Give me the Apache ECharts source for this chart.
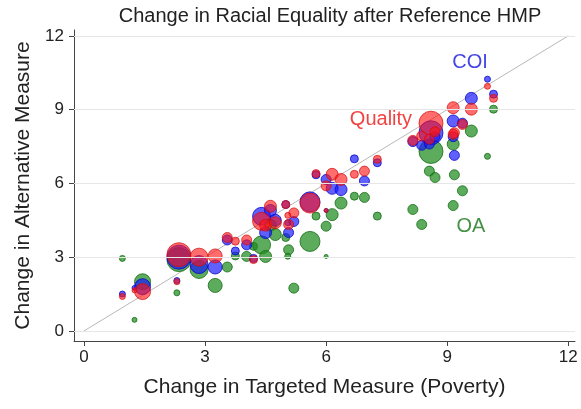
<!DOCTYPE html>
<html>
<head>
<meta charset="utf-8">
<script src="https://cdn.jsdelivr.net/npm/echarts@6/dist/echarts.min.js"></script>
<style>
  html, body { margin: 0; padding: 0; background: #fff; }
  #chart { width: 581px; height: 409px; }
</style>
</head>
<body>
<div id="chart"></div>
<script>
// change in targeted measure (poverty), one entry per HMP area
var xChange  = [0.95, 1.45, 1.25, 2.35, 2.3, 2.85, 3.25, 3.55, 3.75, 4.03, 4.2, 4.4, 4.5, 4.62, 4.74, 5.0, 5.07, 5.2, 5.05, 5.6, 5.75, 6.0, 6.0, 6.15, 6.37, 6.7, 6.95, 7.27, 8.15, 8.37, 8.6, 8.56, 8.7, 9.15, 9.18, 9.15, 9.38, 9.6, 10.0, 10.15];
// weight of each area (bubble size)
var weight   = [3, 8, 2.5, 12, 3, 9, 7, 5, 4, 5, 4, 9, 6, 6, 6, 4, 5, 5, 3, 10, 4, 5, 2, 6, 6, 4, 5, 4, 5, 5, 12, 5, 5, 6, 5, 5, 5, 6, 3, 4];
var yQuality = [1.4, 1.6, 1.65, 3.1, 2.0, 3.0, 3.05, 3.8, 3.65, 3.7, 2.9, 4.46, 4.3, 5.07, 4.4, 5.14, 4.33, 4.8, 4.7, 5.2, 6.4, 5.9, 4.9, 6.37, 6.16, 6.37, 6.5, 6.98, 7.75, 7.93, 8.45, 7.8, 8.1, 9.08, 8.06, 8.0, 8.4, 9.02, 9.95, 9.46];
var yCOI     = [1.5, 1.8, 1.75, 3.0, 2.05, 2.7, 2.6, 3.7, 3.25, 3.5, 2.95, 4.66, 4.0, 4.9, 4.5, 5.14, 4.0, 4.45, 4.4, 5.25, 6.35, 6.16, 4.9, 5.8, 5.75, 7.0, 6.1, 6.84, 7.7, 7.55, 8.06, 7.6, 7.9, 8.54, 7.14, 7.9, 8.45, 9.46, 10.24, 9.63];
var yOA      = [2.95, 2.0, 0.45, 2.9, 1.55, 2.5, 1.85, 2.6, 3.05, 3.03, 3.44, 3.5, 3.03, 4.3, 3.92, 3.8, 3.3, 1.74, 3.04, 3.64, 4.67, 4.26, 3.03, 4.73, 5.2, 5.48, 5.43, 4.67, 4.94, 4.33, 7.3, 6.5, 6.24, 7.6, 6.35, 5.1, 5.7, 8.13, 7.1, 9.02];
var ticks = [0, 3, 6, 9, 12];
// series name labels placed in the plot
var labelNames = ['COI', 'Quality', 'OA'];
var labelX = [9.57, 7.36, 9.59];
var labelY = [10.93, 8.58, 4.23];
var labelColors = ['#1414e0', '#f01212', '#167516'];

function pts(ys) {
  return xChange.map(function (x, i) { return [x, ys[i], weight[i]]; });
}

function bubbles(name, ys, fill, edge) {
  return {
    name: name,
    type: 'scatter',
    data: pts(ys),
    symbolSize: function (d) { return d[2] * 2; },
    itemStyle: { color: fill, borderColor: edge, borderWidth: 1, opacity: 1 },
    silent: true,
    z: 3
  };
}

var myChart = echarts.init(document.getElementById('chart'));
var font = 'Liberation Sans, Arial';
var option = {
  animation: false,
  backgroundColor: '#fff',
  title: {
    text: 'Change in Racial Equality after Reference HMP',
    left: 325,
    top: 1,
    textAlign: 'center',
    textStyle: { fontSize: 20, fontWeight: 'normal', fontFamily: font, color: '#222' }
  },
  grid: { left: 74, right: 6, top: 30, bottom: 68 },
  xAxis: {
    type: 'value',
    min: -0.25,
    max: 12.17,
    name: 'Change in Targeted Measure (Poverty)',
    nameLocation: 'middle',
    nameGap: 36,
    nameTextStyle: { fontSize: 21, fontFamily: font, color: '#222' },
    axisLine: { show: true, onZero: false, lineStyle: { color: '#444', width: 1 } },
    axisTick: { show: true, length: 5, customValues: ticks, lineStyle: { color: '#444' } },
    axisLabel: { customValues: ticks, margin: 8, fontSize: 17, fontFamily: font, color: '#222' },
    splitLine: { show: false }
  },
  yAxis: {
    type: 'value',
    min: -0.41,
    max: 12.24,
    name: 'Change in Alternative Measure',
    nameLocation: 'middle',
    nameGap: 40,
    nameTextStyle: { fontSize: 21, fontFamily: font, color: '#222' },
    axisLine: { show: true, onZero: false, lineStyle: { color: '#444', width: 1 } },
    axisTick: { show: true, length: 5, customValues: ticks, lineStyle: { color: '#444' } },
    axisLabel: { customValues: ticks, margin: 10, fontSize: 17, fontFamily: font, color: '#222' },
    splitLine: { show: false }
  },
  series: [
    {
      type: 'line',
      data: [[0, 0], [12, 12]],
      symbol: 'none',
      silent: true,
      lineStyle: { color: '#b8b8b8', width: 1 },
      z: 1,
      markLine: {
        silent: true,
        symbol: 'none',
        label: { show: false },
        lineStyle: { color: '#e6e6e6', width: 1, type: 'solid' },
        data: ticks.map(function (t) { return { yAxis: t }; })
      }
    },
    bubbles('OA', yOA, 'rgba(30,140,30,0.72)', 'rgba(20,110,20,0.8)'),
    bubbles('COI', yCOI, 'rgba(20,20,255,0.68)', 'rgba(10,10,200,0.8)'),
    bubbles('Quality', yQuality, 'rgba(255,20,20,0.62)', 'rgba(210,10,10,0.7)'),
    {
      type: 'scatter',
      symbolSize: 0,
      silent: true,
      z: 5,
      data: labelNames.map(function (n, i) {
        return {
          value: [labelX[i], labelY[i]],
          label: {
            show: true, position: 'inside', formatter: n,
            fontSize: 20, fontFamily: font, color: labelColors[i]
          }
        };
      })
    }
  ]
};
myChart.setOption(option);
</script>
</body>
</html>
